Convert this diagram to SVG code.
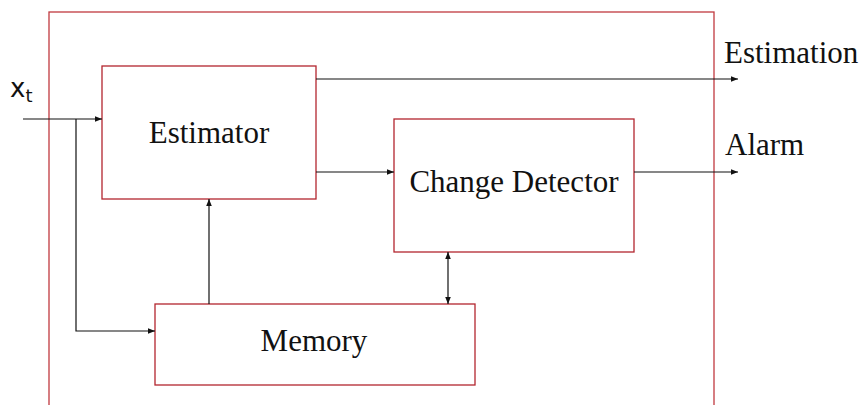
<svg xmlns="http://www.w3.org/2000/svg" width="866" height="405" viewBox="0 0 866 405">
<style>
.box{fill:#fff;stroke:#b3262e;stroke-width:1.3}
.outer{fill:none;stroke:#c0393f;stroke-width:1.3}
.lbl{font-family:"Liberation Serif","DejaVu Serif",serif;font-size:31px;fill:#111}
.c{stroke:#111;stroke-width:1.2;fill:none}
</style>
<defs>
<marker id="ah" viewBox="0 0 10 10" refX="10" refY="5" markerWidth="10" markerHeight="7" markerUnits="userSpaceOnUse" orient="auto-start-reverse">
<path d="M0,1 L10,5 L0,9 z" fill="#111"/>
</marker>
</defs>
<rect class="outer" x="49" y="12" width="665" height="420"/>
<g id="estimator"><rect class="box" x="102" y="66" width="214" height="133"/><text class="lbl" x="209" y="143" text-anchor="middle">Estimator</text></g>
<g id="change-detector"><rect class="box" x="394" y="119" width="240" height="133"/><text class="lbl" x="514" y="192" text-anchor="middle">Change Detector</text></g>
<g id="memory"><rect class="box" x="155" y="304" width="320" height="81"/><text class="lbl" x="314" y="351" text-anchor="middle">Memory</text></g>
<g id="connectors">
<path class="c" d="M23,119 H102" marker-end="url(#ah)"/>
<path class="c" d="M76,119 V331 H155" marker-end="url(#ah)"/>
<path class="c" d="M209,304 V199" marker-end="url(#ah)"/>
<path class="c" d="M316,172 H394" marker-end="url(#ah)"/>
<path class="c" d="M316,79 H738" marker-end="url(#ah)"/>
<path class="c" d="M634,172 H738" marker-end="url(#ah)"/>
<path class="c" d="M448,252 V304" marker-start="url(#ah)" marker-end="url(#ah)"/>
</g>
<g id="labels">
<text class="lbl" x="724" y="63">Estimation</text>
<text class="lbl" x="725" y="155">Alarm</text>
<text x="10" y="97" style="font-family:'DejaVu Sans',sans-serif;font-size:26px;fill:#111">x<tspan dy="5" style="font-size:18px">t</tspan></text>
</g>
</svg>
